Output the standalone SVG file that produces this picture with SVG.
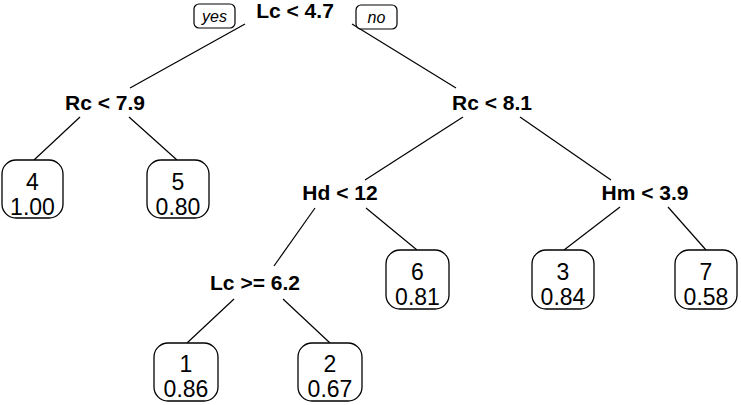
<svg xmlns="http://www.w3.org/2000/svg" width="741" height="405" viewBox="0 0 741 405">
<style>
.split{font-family:"Liberation Sans",Arial,sans-serif;font-weight:bold;font-size:21px;fill:#000;text-anchor:middle}
.leaf rect{fill:#fff;stroke:#000;stroke-width:1.3}
.leaf text{font-family:"Liberation Sans",Arial,sans-serif;font-size:23px;fill:#000;text-anchor:middle}
.tag rect{fill:#fff;stroke:#000;stroke-width:1.2}
.tag text{font-family:"Liberation Sans",Arial,sans-serif;font-style:italic;font-size:16px;fill:#000;text-anchor:middle}
#edges line{stroke:#000;stroke-width:1.2}
</style>
<rect width="741" height="405" fill="#fff"/>
<g id="edges">
<line x1="245" y1="24" x2="130" y2="88"/>
<line x1="352" y1="24" x2="456" y2="88"/>
<line x1="80" y1="117" x2="34" y2="160"/>
<line x1="129" y1="117" x2="177" y2="160"/>
<line x1="463" y1="117" x2="365" y2="180"/>
<line x1="520" y1="117" x2="611" y2="180"/>
<line x1="315" y1="208" x2="274" y2="266"/>
<line x1="366" y1="208" x2="417" y2="250"/>
<line x1="620" y1="207" x2="564" y2="250"/>
<line x1="668" y1="207" x2="706" y2="250"/>
<line x1="234" y1="299" x2="187" y2="343"/>
<line x1="283" y1="299" x2="330" y2="343"/>
</g>
<g id="tags">
<g class="tag" id="yes"><rect x="194" y="4" width="41" height="24" rx="5"/><text x="214.5" y="22">yes</text></g>
<g class="tag" id="no"><rect x="356" y="5" width="41" height="24" rx="5"/><text x="376.5" y="23">no</text></g>
</g>
<g id="n_root"><text class="split" x="295" y="18">Lc &lt; 4.7</text></g>
<g id="n_rc79"><text class="split" x="105" y="110">Rc &lt; 7.9</text></g>
<g id="n_rc81"><text class="split" x="492" y="110">Rc &lt; 8.1</text></g>
<g id="n_hd12"><text class="split" x="340" y="200">Hd &lt; 12</text></g>
<g id="n_hm39"><text class="split" x="645" y="200">Hm &lt; 3.9</text></g>
<g id="n_lc62"><text class="split" x="255" y="290">Lc &gt;= 6.2</text></g>
<g class="leaf" id="leaf4"><rect x="2" y="160" width="61" height="58" rx="14"/><text x="32.5" y="190">4</text><text x="32.5" y="215">1.00</text></g>
<g class="leaf" id="leaf5"><rect x="147" y="160" width="62" height="58" rx="14"/><text x="178" y="190">5</text><text x="178" y="215">0.80</text></g>
<g class="leaf" id="leaf6"><rect x="386" y="250" width="63" height="59" rx="14"/><text x="417.5" y="280">6</text><text x="417.5" y="305">0.81</text></g>
<g class="leaf" id="leaf3"><rect x="532" y="250" width="62" height="59" rx="14"/><text x="563" y="280">3</text><text x="563" y="305">0.84</text></g>
<g class="leaf" id="leaf7"><rect x="675" y="250" width="62" height="59" rx="14"/><text x="706" y="280">7</text><text x="706" y="305">0.58</text></g>
<g class="leaf" id="leaf1"><rect x="154" y="343" width="64" height="58" rx="14"/><text x="186" y="372">1</text><text x="186" y="397">0.86</text></g>
<g class="leaf" id="leaf2"><rect x="298" y="343" width="64" height="58" rx="14"/><text x="330" y="372">2</text><text x="330" y="397">0.67</text></g>
</svg>
